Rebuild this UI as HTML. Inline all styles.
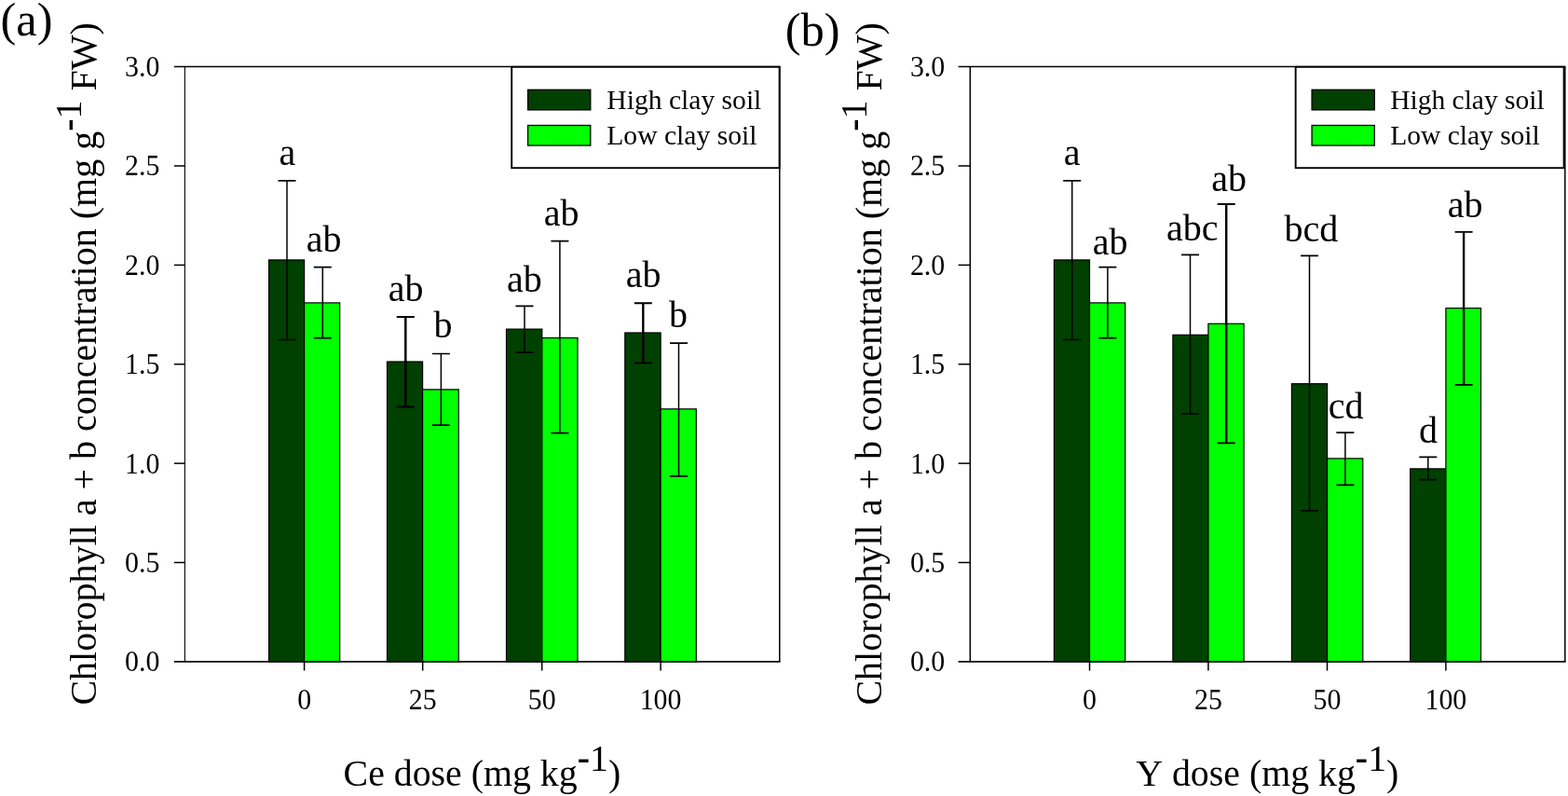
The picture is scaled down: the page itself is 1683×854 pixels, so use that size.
<!DOCTYPE html>
<html lang="en">
<head>
<meta charset="utf-8">
<title>Chlorophyll a + b concentration</title>
<style>
html,body{margin:0;padding:0;background:#fff;}
body{width:1683px;height:854px;overflow:hidden;font-family:"Liberation Serif", "Times New Roman", Times, serif;}
svg{display:block;}
svg text{font-family:"Liberation Serif", "Times New Roman", Times, serif;fill:#000;}
</style>
</head>
<body>
<svg width="1683" height="854" viewBox="0 0 1683 854" font-family='"Liberation Serif", "Times New Roman", Times, serif' fill="#000">
<rect x="0" y="0" width="1683" height="854" fill="#fff"/>
<g id="panel-a">
<rect x="288.6" y="278.9" width="38" height="431" fill="#004000" stroke="#000" stroke-width="1.2"/>
<rect x="326.6" y="324.9" width="38.1" height="385" fill="#00ff00" stroke="#000" stroke-width="1.2"/>
<rect x="415.5" y="388" width="38.1" height="321.9" fill="#004000" stroke="#000" stroke-width="1.2"/>
<rect x="453.6" y="417.9" width="38.7" height="292" fill="#00ff00" stroke="#000" stroke-width="1.2"/>
<rect x="543.5" y="353.1" width="38.3" height="356.8" fill="#004000" stroke="#000" stroke-width="1.2"/>
<rect x="581.8" y="362.5" width="38.2" height="347.4" fill="#00ff00" stroke="#000" stroke-width="1.2"/>
<rect x="670.8" y="357" width="38.3" height="352.9" fill="#004000" stroke="#000" stroke-width="1.2"/>
<rect x="709.1" y="438.8" width="38.2" height="271.1" fill="#00ff00" stroke="#000" stroke-width="1.2"/>
<path d="M298.5 193.9H317.5M298.5 364.5H317.5" fill="none" stroke="#000" stroke-width="1.7"/>
<path d="M308 193.9V364.5" fill="none" stroke="#000" stroke-width="1.5"/>
<path d="M336.8 286.6H355.8M336.8 362.7H355.8" fill="none" stroke="#000" stroke-width="1.7"/>
<path d="M346.3 286.6V362.7" fill="none" stroke="#000" stroke-width="1.5"/>
<path d="M425.8 340H444.8M425.8 436.5H444.8" fill="none" stroke="#000" stroke-width="2.0"/>
<path d="M435.3 340V436.5" fill="none" stroke="#000" stroke-width="2.5"/>
<path d="M463.9 379.5H482.9M463.9 456.2H482.9" fill="none" stroke="#000" stroke-width="1.7"/>
<path d="M473.4 379.5V456.2" fill="none" stroke="#000" stroke-width="1.5"/>
<path d="M553.5 328.3H572.5M553.5 378.2H572.5" fill="none" stroke="#000" stroke-width="1.7"/>
<path d="M563 328.3V378.2" fill="none" stroke="#000" stroke-width="1.5"/>
<path d="M591.4 258.7H610.4M591.4 464.7H610.4" fill="none" stroke="#000" stroke-width="1.7"/>
<path d="M600.9 258.7V464.7" fill="none" stroke="#000" stroke-width="1.5"/>
<path d="M680.8 325.2H699.8M680.8 389.4H699.8" fill="none" stroke="#000" stroke-width="1.9"/>
<path d="M690.3 325.2V389.4" fill="none" stroke="#000" stroke-width="2.4"/>
<path d="M719 368.2H738M719 510.9H738" fill="none" stroke="#000" stroke-width="1.7"/>
<path d="M728.5 368.2V510.9" fill="none" stroke="#000" stroke-width="1.5"/>
<line x1="186.9" y1="71.6" x2="837.5" y2="71.6" stroke="#000" stroke-width="1.5"/>
<line x1="186.9" y1="709.9" x2="837.5" y2="709.9" stroke="#000" stroke-width="1.6"/>
<line x1="198.4" y1="71.6" x2="198.4" y2="709.9" stroke="#000" stroke-width="1.1"/>
<line x1="836.8" y1="71.6" x2="836.8" y2="709.9" stroke="#000" stroke-width="1.5"/>
<text transform="translate(171.4,720.3) scale(0.932,1)" text-anchor="end" font-size="32.1">0.0</text>
<line x1="186.9" y1="603.52" x2="198.4" y2="603.52" stroke="#000" stroke-width="1.5"/>
<text transform="translate(171.4,613.92) scale(0.932,1)" text-anchor="end" font-size="32.1">0.5</text>
<line x1="186.9" y1="497.13" x2="198.4" y2="497.13" stroke="#000" stroke-width="1.5"/>
<text transform="translate(171.4,507.53) scale(0.932,1)" text-anchor="end" font-size="32.1">1.0</text>
<line x1="186.9" y1="390.75" x2="198.4" y2="390.75" stroke="#000" stroke-width="1.5"/>
<text transform="translate(171.4,401.15) scale(0.932,1)" text-anchor="end" font-size="32.1">1.5</text>
<line x1="186.9" y1="284.37" x2="198.4" y2="284.37" stroke="#000" stroke-width="1.5"/>
<text transform="translate(171.4,294.77) scale(0.932,1)" text-anchor="end" font-size="32.1">2.0</text>
<line x1="186.9" y1="177.98" x2="198.4" y2="177.98" stroke="#000" stroke-width="1.5"/>
<text transform="translate(171.4,188.38) scale(0.932,1)" text-anchor="end" font-size="32.1">2.5</text>
<text transform="translate(171.4,82) scale(0.932,1)" text-anchor="end" font-size="32.1">3.0</text>
<line x1="326.6" y1="709.9" x2="326.6" y2="719.5" stroke="#000" stroke-width="1.5"/>
<text transform="translate(326.6,761.4) scale(0.932,1)" text-anchor="middle" font-size="32.1">0</text>
<line x1="453.7" y1="709.9" x2="453.7" y2="719.5" stroke="#000" stroke-width="1.5"/>
<text transform="translate(453.7,761.4) scale(0.932,1)" text-anchor="middle" font-size="32.1">25</text>
<line x1="581.7" y1="709.9" x2="581.7" y2="719.5" stroke="#000" stroke-width="1.5"/>
<text transform="translate(581.7,761.4) scale(0.932,1)" text-anchor="middle" font-size="32.1">50</text>
<line x1="709.1" y1="709.9" x2="709.1" y2="719.5" stroke="#000" stroke-width="1.5"/>
<text transform="translate(709.1,761.4) scale(0.932,1)" text-anchor="middle" font-size="32.1">100</text>
<rect x="549.2" y="71.8" width="287.4" height="108.4" fill="#fff" stroke="#000" stroke-width="1.9"/>
<rect x="566.6" y="96.3" width="67.2" height="21.6" fill="#004000" stroke="#000" stroke-width="1.3"/>
<rect x="566.6" y="134.5" width="67.2" height="21.6" fill="#00ff00" stroke="#000" stroke-width="1.3"/>
<text x="651.3" y="116.9" font-size="29.6">High clay soil</text>
<text x="651.3" y="155.2" font-size="29.6">Low clay soil</text>
<text x="308.4" y="177.3" text-anchor="middle" font-size="40">a</text>
<text x="347.6" y="270.3" text-anchor="middle" font-size="40">ab</text>
<text x="435.65" y="322.9" text-anchor="middle" font-size="40">ab</text>
<text x="475.5" y="362.3" text-anchor="middle" font-size="40">b</text>
<text x="563" y="313.2" text-anchor="middle" font-size="40">ab</text>
<text x="602.55" y="242.3" text-anchor="middle" font-size="40">ab</text>
<text x="690.65" y="307.9" text-anchor="middle" font-size="40">ab</text>
<text x="728.05" y="351.4" text-anchor="middle" font-size="40">b</text>
<text transform="translate(103.2,756.6) rotate(-90)" font-size="40">Chlorophyll a + b concentration (mg g<tspan dy="-17.0" dx="0" font-weight="bold">-</tspan><tspan dy="1.0">1</tspan><tspan dy="16.0" dx="0"> FW)</tspan></text>
<text x="368.6" y="843" font-size="39.85">Ce dose (mg kg<tspan dy="-17.0" dx="0" font-weight="bold">-</tspan><tspan dy="1.0">1</tspan><tspan dy="16.0" dx="0">)</tspan></text>
<text x="0.5" y="37.9" font-size="50.5">(a)</text>
</g>
<g id="panel-b">
<rect x="1131.4" y="278.9" width="38.1" height="431" fill="#004000" stroke="#000" stroke-width="1.2"/>
<rect x="1169.5" y="324.9" width="38.2" height="385" fill="#00ff00" stroke="#000" stroke-width="1.2"/>
<rect x="1258.9" y="359.3" width="38" height="350.6" fill="#004000" stroke="#000" stroke-width="1.2"/>
<rect x="1296.9" y="347.3" width="38.2" height="362.6" fill="#00ff00" stroke="#000" stroke-width="1.2"/>
<rect x="1386.4" y="411.7" width="38.2" height="298.2" fill="#004000" stroke="#000" stroke-width="1.2"/>
<rect x="1424.6" y="491.9" width="38.2" height="218" fill="#00ff00" stroke="#000" stroke-width="1.2"/>
<rect x="1513.7" y="502.9" width="38.2" height="207" fill="#004000" stroke="#000" stroke-width="1.2"/>
<rect x="1551.9" y="330.6" width="37.6" height="379.3" fill="#00ff00" stroke="#000" stroke-width="1.2"/>
<path d="M1141.2 193.9H1160.2M1141.2 364.5H1160.2" fill="none" stroke="#000" stroke-width="1.7"/>
<path d="M1150.7 193.9V364.5" fill="none" stroke="#000" stroke-width="1.5"/>
<path d="M1179.4 286.6H1198.4M1179.4 362.7H1198.4" fill="none" stroke="#000" stroke-width="1.7"/>
<path d="M1188.9 286.6V362.7" fill="none" stroke="#000" stroke-width="1.5"/>
<path d="M1268 273.4H1287M1268 444H1287" fill="none" stroke="#000" stroke-width="1.7"/>
<path d="M1277.5 273.4V444" fill="none" stroke="#000" stroke-width="1.5"/>
<path d="M1306.7 219H1325.7M1306.7 475.4H1325.7" fill="none" stroke="#000" stroke-width="1.9"/>
<path d="M1316.2 219V475.4" fill="none" stroke="#000" stroke-width="2.5"/>
<path d="M1396 274.4H1415M1396 547.8H1415" fill="none" stroke="#000" stroke-width="1.7"/>
<path d="M1405.5 274.4V547.8" fill="none" stroke="#000" stroke-width="1.5"/>
<path d="M1434.4 464.2H1453.4M1434.4 520.3H1453.4" fill="none" stroke="#000" stroke-width="1.7"/>
<path d="M1443.9 464.2V520.3" fill="none" stroke="#000" stroke-width="1.5"/>
<path d="M1523.3 490.4H1542.3M1523.3 514.6H1542.3" fill="none" stroke="#000" stroke-width="1.7"/>
<path d="M1532.8 490.4V514.6" fill="none" stroke="#000" stroke-width="1.5"/>
<path d="M1561.6 248.9H1580.6M1561.6 412.9H1580.6" fill="none" stroke="#000" stroke-width="1.9"/>
<path d="M1571.1 248.9V412.9" fill="none" stroke="#000" stroke-width="2.4"/>
<line x1="1028.6" y1="71.6" x2="1680.5" y2="71.6" stroke="#000" stroke-width="1.5"/>
<line x1="1028.6" y1="709.9" x2="1680.5" y2="709.9" stroke="#000" stroke-width="1.6"/>
<line x1="1041.3" y1="71.6" x2="1041.3" y2="709.9" stroke="#000" stroke-width="1.5"/>
<line x1="1679.8" y1="71.6" x2="1679.8" y2="709.9" stroke="#000" stroke-width="1.5"/>
<text transform="translate(1014.3,720.3) scale(0.932,1)" text-anchor="end" font-size="32.1">0.0</text>
<line x1="1028.6" y1="603.52" x2="1041.3" y2="603.52" stroke="#000" stroke-width="1.5"/>
<text transform="translate(1014.3,613.92) scale(0.932,1)" text-anchor="end" font-size="32.1">0.5</text>
<line x1="1028.6" y1="497.13" x2="1041.3" y2="497.13" stroke="#000" stroke-width="1.5"/>
<text transform="translate(1014.3,507.53) scale(0.932,1)" text-anchor="end" font-size="32.1">1.0</text>
<line x1="1028.6" y1="390.75" x2="1041.3" y2="390.75" stroke="#000" stroke-width="1.5"/>
<text transform="translate(1014.3,401.15) scale(0.932,1)" text-anchor="end" font-size="32.1">1.5</text>
<line x1="1028.6" y1="284.37" x2="1041.3" y2="284.37" stroke="#000" stroke-width="1.5"/>
<text transform="translate(1014.3,294.77) scale(0.932,1)" text-anchor="end" font-size="32.1">2.0</text>
<line x1="1028.6" y1="177.98" x2="1041.3" y2="177.98" stroke="#000" stroke-width="1.5"/>
<text transform="translate(1014.3,188.38) scale(0.932,1)" text-anchor="end" font-size="32.1">2.5</text>
<text transform="translate(1014.3,82) scale(0.932,1)" text-anchor="end" font-size="32.1">3.0</text>
<line x1="1169.5" y1="709.9" x2="1169.5" y2="719.5" stroke="#000" stroke-width="1.5"/>
<text transform="translate(1169.5,761.4) scale(0.932,1)" text-anchor="middle" font-size="32.1">0</text>
<line x1="1296.9" y1="709.9" x2="1296.9" y2="719.5" stroke="#000" stroke-width="1.5"/>
<text transform="translate(1296.9,761.4) scale(0.932,1)" text-anchor="middle" font-size="32.1">25</text>
<line x1="1424.5" y1="709.9" x2="1424.5" y2="719.5" stroke="#000" stroke-width="1.5"/>
<text transform="translate(1424.5,761.4) scale(0.932,1)" text-anchor="middle" font-size="32.1">50</text>
<line x1="1551.9" y1="709.9" x2="1551.9" y2="719.5" stroke="#000" stroke-width="1.5"/>
<text transform="translate(1551.9,761.4) scale(0.932,1)" text-anchor="middle" font-size="32.1">100</text>
<rect x="1390.65" y="71.8" width="287.95" height="108.4" fill="#fff" stroke="#000" stroke-width="1.9"/>
<rect x="1408.1" y="96.3" width="67.2" height="21.6" fill="#004000" stroke="#000" stroke-width="1.3"/>
<rect x="1408.1" y="134.5" width="67.2" height="21.6" fill="#00ff00" stroke="#000" stroke-width="1.3"/>
<text x="1492.2" y="116.9" font-size="29.5">High clay soil</text>
<text x="1492.2" y="155.2" font-size="29.5">Low clay soil</text>
<text x="1150.7" y="177.3" text-anchor="middle" font-size="40">a</text>
<text x="1191.7" y="272.6" text-anchor="middle" font-size="40">ab</text>
<text x="1279.75" y="257.5" text-anchor="middle" font-size="40">abc</text>
<text x="1319.2" y="205" text-anchor="middle" font-size="40">ab</text>
<text x="1407.5" y="258.8" text-anchor="middle" font-size="40">bcd</text>
<text x="1444.7" y="448.5" text-anchor="middle" font-size="40">cd</text>
<text x="1532.9" y="474.65" text-anchor="middle" font-size="40">d</text>
<text x="1572.6" y="232.6" text-anchor="middle" font-size="40">ab</text>
<text transform="translate(946,756.6) rotate(-90)" font-size="40">Chlorophyll a + b concentration (mg g<tspan dy="-17.0" dx="0" font-weight="bold">-</tspan><tspan dy="1.0">1</tspan><tspan dy="16.0" dx="0"> FW)</tspan></text>
<text x="1219.2" y="843" font-size="39.85">Y<tspan dx="1.5"> dose (mg kg</tspan><tspan dy="-17.0" dx="0" font-weight="bold">-</tspan><tspan dy="1.0">1</tspan><tspan dy="16.0" dx="0">)</tspan></text>
<text x="842.7" y="49.3" font-size="50.5">(b)</text>
</g>
</svg>
</body>
</html>
